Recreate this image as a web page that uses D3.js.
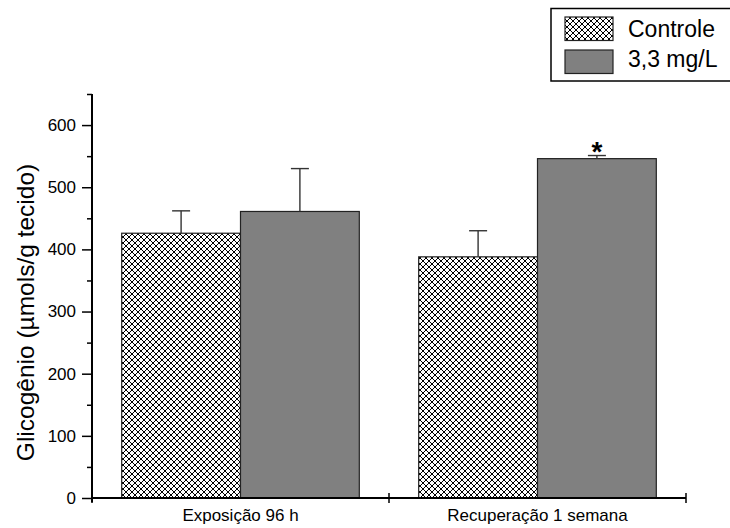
<!DOCTYPE html>
<html>
<head>
<meta charset="utf-8">
<script src="https://cdn.jsdelivr.net/npm/d3@7"></script>
<style>
  body { margin: 0; background: #fff; }
  svg { display: block; font-family: "Liberation Sans", Arial, sans-serif; }
</style>
</head>
<body>
<div id="chart"></div>
<script>
const categories = ["Exposição 96 h", "Recuperação 1 semana"]
const series = ["Controle", "3,3 mg/L"]
const controleValues = [426, 388]
const controleErrors = [36, 42]
const doseValues = [461, 546]
const doseErrors = [69, 5]
const yTicks = [0, 100, 200, 300, 400, 500, 600]
const yMinorTicks = [50, 150, 250, 350, 450, 550, 650]
const significant = [false, true]

const values = [controleValues, doseValues]
const errors = [controleErrors, doseErrors]

// one row per bar
const bars = []
categories.forEach((c, i) => {
    series.forEach((s, j) => {
        bars.push({cat: c, ser: s, value: values[j][i], err: errors[j][i], star: j == 1 && significant[i]})
    })
})

var chart_width  = 730;
var chart_height = 528;
var svg = d3.select('#chart')
    .append('svg')
    .attr('width', chart_width)
    .attr('height', chart_height);

// cross hatch
svg.append('defs')
    .append('pattern')
    .attr('id', 'hatch')
    .attr('patternUnits', 'userSpaceOnUse')
    .attr('width', 6)
    .attr('height', 6)
    .append('path')
    .attr('d', 'M0,0L6,6M6,0L0,6M-1,1L1,-1M5,7L7,5M-1,5L1,7M5,-1L7,1')
    .attr('stroke', '#000')
    .attr('stroke-width', 1.2)
    .attr('shape-rendering', 'crispEdges')
    .attr('fill', 'none');

const fills = {"Controle": 'url(#hatch)', "3,3 mg/L": '#808080'}

const x_scale = d3.scaleBand()
    .domain(categories)
    .range([92, 686])

const x_inner = d3.scaleBand()
    .domain(series)
    .range([0, x_scale.bandwidth()])
    .paddingOuter(0.25)

const y_scale = d3.scaleLinear()
    .domain([0, 650])
    .range([498, 94])

// bars
svg.selectAll('rect.bar')
    .data(bars)
    .enter()
    .append('rect')
    .attr('class', 'bar')
    .attr('x', d => x_scale(d.cat) + x_inner(d.ser))
    .attr('y', d => y_scale(d.value))
    .attr('width', x_inner.bandwidth())
    .attr('height', d => y_scale(0) - y_scale(d.value))
    .attr('fill', d => fills[d.ser])
    .attr('stroke', '#222')
    .attr('stroke-width', 1.2);

// error bars (upper only)
const err = svg.selectAll('g.err')
    .data(bars)
    .enter()
    .append('g')
    .attr('class', 'err')
    .attr('transform', d => 'translate(' + (x_scale(d.cat) + x_inner(d.ser) + x_inner.bandwidth() / 2) + ',0)')
    .attr('stroke', '#333')
    .attr('stroke-width', 1.4);
err.append('line')
    .attr('y1', d => y_scale(d.value))
    .attr('y2', d => y_scale(d.value + d.err));
err.append('line')
    .attr('x1', -9)
    .attr('x2', 9)
    .attr('y1', d => y_scale(d.value + d.err))
    .attr('y2', d => y_scale(d.value + d.err));

svg.selectAll('text.star')
    .data(bars.filter(d => d.star))
    .enter()
    .append('text')
    .attr('class', 'star')
    .text('*')
    .attr('x', d => x_scale(d.cat) + x_inner(d.ser) + x_inner.bandwidth() / 2)
    .attr('y', d => y_scale(d.value + d.err) + 5)
    .attr('text-anchor', 'middle')
    .attr('font-size', 28)
    .attr('font-weight', 'bold');

// y axis
const yAxis = svg.append('g')
    .attr('transform', 'translate(92,0)')
    .call(d3.axisLeft(y_scale).tickValues(yTicks).tickSize(10).tickSizeOuter(0))
yAxis.select('.domain').remove()
yAxis.selectAll('.tick line').attr('stroke-width', 1.5)
yAxis.selectAll('.tick text')
    .attr('x', -16)
    .attr('font-size', 17)
    .attr('font-family', '"Liberation Sans", Arial, sans-serif')
    .attr('fill', '#000');
svg.append('g')
    .attr('transform', 'translate(92,0)')
    .call(d3.axisLeft(y_scale).tickValues(yMinorTicks).tickSize(5).tickFormat(''))
    .call(g => g.select('.domain').remove())
    .selectAll('.tick line').attr('stroke-width', 1.5);
svg.append('line')
    .attr('x1', 92).attr('x2', 92)
    .attr('y1', y_scale(650)).attr('y2', 502)
    .attr('stroke', '#000')
    .attr('stroke-width', 2);

// x axis
svg.append('line')
    .attr('x1', 92).attr('x2', 686)
    .attr('y1', y_scale(0)).attr('y2', y_scale(0))
    .attr('stroke', '#000')
    .attr('stroke-width', 2);
const xBounds = categories.map(c => x_scale(c)).concat([x_scale.range()[1]])
svg.selectAll('line.xtick')
    .data(xBounds)
    .enter()
    .append('line')
    .attr('class', 'xtick')
    .attr('x1', d => d).attr('x2', d => d)
    .attr('y1', y_scale(0) - 5).attr('y2', y_scale(0) + 5)
    .attr('stroke', '#000')
    .attr('stroke-width', 1.5);
svg.selectAll('text.xlabel')
    .data(categories)
    .enter()
    .append('text')
    .attr('class', 'xlabel')
    .text(d => d)
    .attr('x', d => x_scale(d) + x_scale.bandwidth() / 2)
    .attr('y', 521)
    .attr('text-anchor', 'middle')
    .attr('font-size', 17);

// y title
svg.append('text')
    .text('Glicogênio (µmols/g tecido)')
    .attr('transform', 'translate(33.5,312.5) rotate(-90)')
    .attr('text-anchor', 'middle')
    .attr('font-size', 24.5);

// legend
const legend = svg.append('g')
legend.append('rect')
    .attr('x', 551).attr('y', 8.5)
    .attr('width', 200).attr('height', 72.5)
    .attr('fill', 'none')
    .attr('stroke', '#000')
    .attr('stroke-width', 1.5);
legend.selectAll('rect.swatch')
    .data(series)
    .enter()
    .append('rect')
    .attr('class', 'swatch')
    .attr('x', 565)
    .attr('y', (d, i) => 17 + i * 33)
    .attr('width', 48)
    .attr('height', 23.5)
    .attr('fill', d => fills[d])
    .attr('stroke', '#222')
    .attr('stroke-width', 1.2);
legend.selectAll('text')
    .data(series)
    .enter()
    .append('text')
    .text(d => d)
    .attr('x', 628)
    .attr('y', (d, i) => 37 + i * 30)
    .attr('font-size', 23);
</script>
</body>
</html>
